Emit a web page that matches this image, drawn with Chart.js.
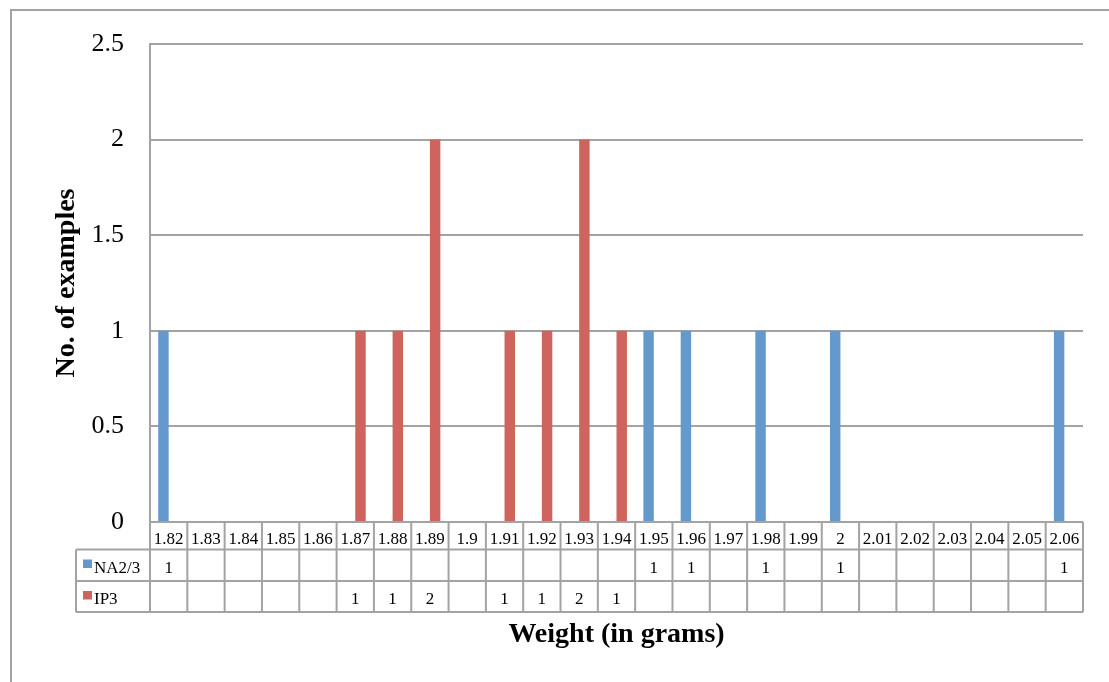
<!DOCTYPE html>
<html>
<head>
<meta charset="utf-8">
<title>Weight distribution</title>
<script src="https://cdn.jsdelivr.net/npm/chart.js@4.4.0/dist/chart.umd.min.js"></script>
<style>
  html, body { margin: 0; padding: 0; background: #ffffff; }
  #wrap { width: 1109px; height: 682px; position: relative; }
</style>
</head>
<body>
<div id="wrap"><canvas id="chart" width="1109" height="682"></canvas></div>
<script>
// Weight classes (grams)
const weights = ['1.82','1.83','1.84','1.85','1.86','1.87','1.88','1.89','1.9','1.91','1.92','1.93','1.94',
                 '1.95','1.96','1.97','1.98','1.99','2','2.01','2.02','2.03','2.04','2.05','2.06'];
// Number of examples per weight class
const na23 = [1,null,null,null,null,null,null,null,null,null,null,null,null,
              1,1,null,1,null,1,null,null,null,null,null,1];
const ip3  = [null,null,null,null,null,1,1,2,null,1,1,2,1,
              null,null,null,null,null,null,null,null,null,null,null,null];
const seriesNames = ['NA2/3', 'IP3'];
const seriesColors = ['#6598CB', '#CD655E'];
const yTicks = { min: 0, max: 2.5, step: 0.5 };

const FONT = "'Liberation Serif', 'DejaVu Serif', serif";
const LINE = '#a3a3a3';

// Outer frame of the chart object
const framePlugin = {
  id: 'frame',
  beforeDraw(chart) {
    const ctx = chart.ctx;
    ctx.save();
    ctx.fillStyle = '#ffffff';
    ctx.fillRect(0, 0, chart.width, chart.height);
    ctx.strokeStyle = LINE;
    ctx.lineWidth = 2;
    ctx.strokeRect(11, 10, chart.width + 20, chart.height + 20);
    ctx.restore();
  }
};

// Data table under the plot: category row, then one row per series
const dataTablePlugin = {
  id: 'dataTable',
  afterDraw(chart) {
    const ctx = chart.ctx;
    const xs = chart.scales.x;
    const n = weights.length;
    const colW = (xs.right - xs.left) / n;
    const top = chart.chartArea.bottom;
    const rowH = [27.5, 31.5, 31];
    const r1 = top + rowH[0];
    const r2 = r1 + rowH[1];
    const r3 = r2 + rowH[2];
    const legendLeft = 76;
    const rows = [na23, ip3];

    ctx.save();
    ctx.strokeStyle = LINE;
    ctx.lineWidth = 2;
    ctx.beginPath();
    // horizontal rules
    ctx.moveTo(xs.left, top); ctx.lineTo(xs.right, top);
    ctx.moveTo(legendLeft, r1); ctx.lineTo(xs.right, r1);
    ctx.moveTo(legendLeft, r2); ctx.lineTo(xs.right, r2);
    ctx.moveTo(legendLeft, r3); ctx.lineTo(xs.right, r3);
    // vertical rules
    ctx.moveTo(legendLeft, r1); ctx.lineTo(legendLeft, r3);
    for (let i = 0; i <= n; i++) {
      const px = xs.getPixelForValue(0) - colW / 2 + i * colW;
      ctx.moveTo(px, top); ctx.lineTo(px, r3);
    }
    ctx.stroke();

    ctx.fillStyle = '#000000';
    ctx.font = '17px ' + FONT;
    ctx.textAlign = 'center';
    ctx.textBaseline = 'alphabetic';
    const baselines = [top + 22, r1 + 23, r2 + 23];
    weights.forEach((w, i) => {
      const cx = xs.getPixelForValue(i);
      ctx.fillText(w, cx, baselines[0]);
      rows.forEach((arr, k) => {
        if (arr[i] !== null && arr[i] !== undefined) {
          ctx.fillText(String(arr[i]), cx, baselines[k + 1]);
        }
      });
    });

    // series legend keys
    ctx.textAlign = 'left';
    seriesNames.forEach((name, k) => {
      const y0 = k === 0 ? r1 : r2;
      ctx.fillStyle = seriesColors[k];
      ctx.fillRect(83, y0 + 10, 9, 8.5);
      ctx.fillStyle = '#000000';
      ctx.fillText(name, 94, baselines[k + 1]);
    });
    ctx.restore();
  }
};

new Chart(document.getElementById('chart'), {
  type: 'bar',
  data: {
    labels: weights,
    datasets: [
      { label: seriesNames[0], data: na23, backgroundColor: seriesColors[0], borderWidth: 0 },
      { label: seriesNames[1], data: ip3,  backgroundColor: seriesColors[1], borderWidth: 0 }
    ]
  },
  options: {
    responsive: false,
    animation: false,
    devicePixelRatio: 1,
    layout: { padding: { left: 0, top: 44, right: 26, bottom: 0 } },
    datasets: { bar: { categoryPercentage: 0.56, barPercentage: 1.0 } },
    plugins: {
      legend: { display: false },
      tooltip: { enabled: false }
    },
    scales: {
      x: {
        type: 'category',
        grid: { display: false, drawTicks: false },
        border: { display: false },
        ticks: { display: false },
        title: {
          display: true,
          text: 'Weight (in grams)',
          color: '#000000',
          font: { family: FONT, size: 28, weight: 'bold', lineHeight: 1.2 },
          padding: { top: 0, bottom: 30 }
        },
        afterFit(scale) { scale.height = 160; }
      },
      y: {
        min: yTicks.min,
        max: yTicks.max,
        grid: { color: LINE, lineWidth: 2, drawTicks: false },
        border: { display: true, color: LINE, width: 2 },
        ticks: {
          stepSize: yTicks.step,
          padding: 26,
          color: '#000000',
          font: { family: FONT, size: 26 },
          callback: (v) => String(Number(v))
        },
        title: {
          display: true,
          text: 'No. of examples',
          color: '#000000',
          font: { family: FONT, size: 28, weight: 'bold', lineHeight: 1.2 },
          padding: { top: 50, bottom: 0 }
        },
        afterFit(scale) { scale.width = 150; }
      }
    }
  },
  plugins: [framePlugin, dataTablePlugin]
});
</script>
</body>
</html>
